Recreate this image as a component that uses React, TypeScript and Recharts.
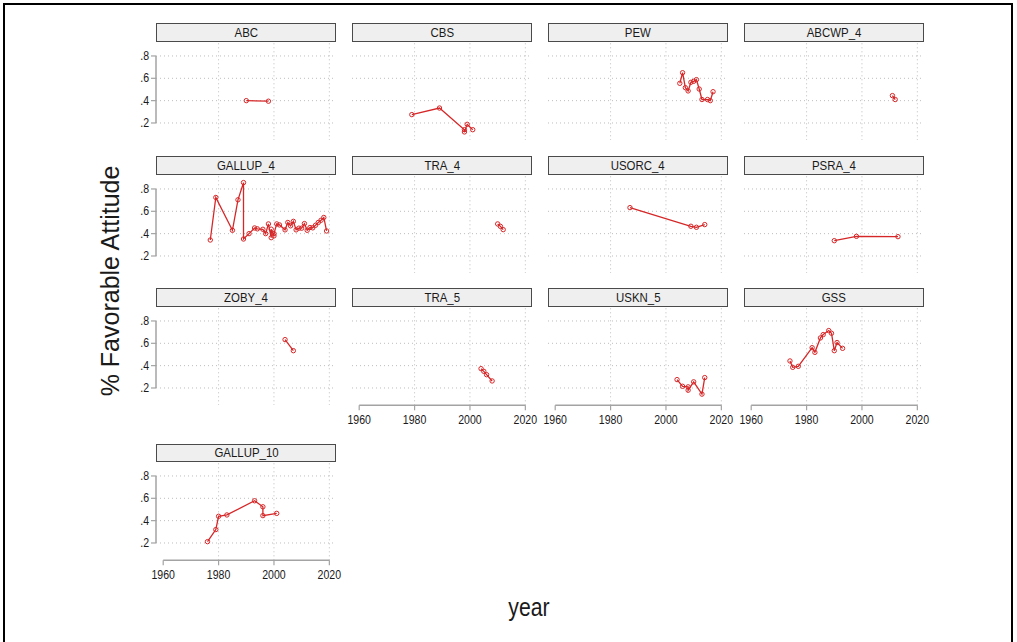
import React from 'react';
import { LineChart, Line, XAxis, YAxis, ReferenceLine } from 'recharts';

type Pt = [number, number];

// share with a favorable attitude, by survey house and year
const ABC: Pt[] = [[1990, 0.40], [1998, 0.395]];
const CBS: Pt[] = [[1979, 0.275], [1989, 0.334], [1998, 0.14], [1998, 0.12], [1999, 0.188], [2001, 0.14]];
const PEW: Pt[] = [
  [2005, 0.555], [2006, 0.65], [2007, 0.516], [2008, 0.487], [2009, 0.564], [2010, 0.573],
  [2011, 0.588], [2012, 0.504], [2013, 0.41], [2015, 0.41], [2016, 0.40], [2017, 0.48],
];
const ABCWP_4: Pt[] = [[2011, 0.445], [2012, 0.41]];
const GALLUP_4: Pt[] = [
  [1977, 0.343], [1979, 0.724], [1985, 0.43], [1987, 0.703], [1989, 0.857], [1989, 0.352],
  [1991, 0.40], [1993, 0.451], [1994, 0.443], [1996, 0.439], [1997, 0.40], [1998, 0.487],
  [1999, 0.364], [1999, 0.44], [2000, 0.38], [2000, 0.40], [2001, 0.487], [2002, 0.478],
  [2004, 0.434], [2005, 0.50], [2006, 0.47], [2007, 0.51], [2008, 0.434], [2009, 0.449],
  [2010, 0.449], [2011, 0.49], [2012, 0.43], [2013, 0.455], [2014, 0.452], [2015, 0.475],
  [2016, 0.50], [2017, 0.52], [2018, 0.545], [2019, 0.424],
];
const TRA_4: Pt[] = [[2010, 0.487], [2011, 0.465], [2012, 0.436]];
const USORC_4: Pt[] = [[1987, 0.633], [2009, 0.466], [2011, 0.457], [2014, 0.481]];
const PSRA_4: Pt[] = [[1990, 0.337], [1998, 0.376], [2013, 0.373]];
const ZOBY_4: Pt[] = [[2004, 0.633], [2007, 0.534]];
const TRA_5: Pt[] = [[2004, 0.373], [2005, 0.349], [2006, 0.319], [2008, 0.263]];
const USKN_5: Pt[] = [[2004, 0.275], [2006, 0.215], [2008, 0.21], [2008, 0.18], [2010, 0.255], [2013, 0.145], [2014, 0.293]];
const GSS: Pt[] = [
  [1974, 0.442], [1975, 0.385], [1977, 0.394], [1982, 0.561], [1983, 0.519], [1985, 0.648],
  [1986, 0.678], [1988, 0.714], [1989, 0.69], [1990, 0.534], [1991, 0.607], [1993, 0.555],
];
const GALLUP_10: Pt[] = [[1976, 0.212], [1979, 0.32], [1980, 0.439], [1983, 0.451], [1993, 0.578], [1996, 0.524], [1996, 0.445], [2001, 0.465]];

const X_TICKS = [1960, 1980, 2000, 2020];
const X_GRID = [1980, 2000, 2020];
const Y_TICKS = [0.2, 0.4, 0.6, 0.8];

const panels: { title: string; pts: Pt[]; row: number; col: number }[] = [
  { title: 'ABC', pts: ABC, row: 0, col: 0 },
  { title: 'CBS', pts: CBS, row: 0, col: 1 },
  { title: 'PEW', pts: PEW, row: 0, col: 2 },
  { title: 'ABCWP_4', pts: ABCWP_4, row: 0, col: 3 },
  { title: 'GALLUP_4', pts: GALLUP_4, row: 1, col: 0 },
  { title: 'TRA_4', pts: TRA_4, row: 1, col: 1 },
  { title: 'USORC_4', pts: USORC_4, row: 1, col: 2 },
  { title: 'PSRA_4', pts: PSRA_4, row: 1, col: 3 },
  { title: 'ZOBY_4', pts: ZOBY_4, row: 2, col: 0 },
  { title: 'TRA_5', pts: TRA_5, row: 2, col: 1 },
  { title: 'USKN_5', pts: USKN_5, row: 2, col: 2 },
  { title: 'GSS', pts: GSS, row: 2, col: 3 },
  { title: 'GALLUP_10', pts: GALLUP_10, row: 3, col: 0 },
];

const RED = '#d62728';
const AXIS = '#a3a3a3';
const GRID = '#bdbdbd';
const FONT = '"Liberation Sans", Arial, sans-serif';

const X_DOMAIN: [number, number] = [1957.4, 2022.4];
const Y_DOMAIN: [number, number] = [0.045, 0.925];

const PLOT_W = 180;
const PLOT_H = 98.3;
const COL_LEFT = [156, 352, 547.8, 743.8];
const ROW_TOP = [41.7, 174.5, 306.8, 462];
const Y_AXIS_W = 30;
const X_AXIS_H = 30;
const SIDE = 14; // room so end tick labels are not cut

const XTick = (props: any) => {
  const { x, y, payload } = props;
  return (
    <text transform={`translate(${x},${y + 11.5}) scale(0.88,1)`} textAnchor="middle" fontSize={12} fill="#1a1a1a" fontFamily={FONT}>
      {payload.value}
    </text>
  );
};

const YTick = (props: any) => {
  const { x, y, payload } = props;
  return (
    <text transform={`translate(${x},${y + 4}) scale(0.88,1)`} textAnchor="end" fontSize={12} fill="#1a1a1a" fontFamily={FONT}>
      {String(payload.value).replace(/^0/, '')}
    </text>
  );
};

function Panel({ title, pts, row, col }: { title: string; pts: Pt[]; row: number; col: number }) {
  const showY = col === 0;
  const showX = (row === 2 && col > 0) || row === 3;
  const left = COL_LEFT[col];
  const top = ROW_TOP[row];
  const yw = showY ? Y_AXIS_W : 0;
  const w = PLOT_W + yw + SIDE * 2;
  const h = PLOT_H + (showX ? X_AXIS_H : 0);
  const data = pts.map(([year, v]) => ({ year, v }));

  return (
    <>
      <div
        style={{
          position: 'absolute',
          left,
          top: top - 18.5,
          width: PLOT_W,
          height: 18.5,
          boxSizing: 'border-box',
          border: '1.5px solid #4a4a4a',
          background: '#efefef',
          display: 'flex',
          alignItems: 'center',
          justifyContent: 'center',
          fontFamily: FONT,
          fontSize: 13,
          color: '#1a1a1a',
        }}
      >
        <span style={{ display: 'inline-block', transform: 'scaleX(0.88)' }}>{title}</span>
      </div>
      <div style={{ position: 'absolute', left: left - yw - SIDE, top }}>
        <LineChart width={w} height={h} data={data} margin={{ top: 0, right: SIDE, bottom: 0, left: SIDE }}>
          <XAxis
            dataKey="year"
            type="number"
            domain={X_DOMAIN}
            allowDataOverflow
            ticks={X_TICKS}
            hide={!showX}
            height={X_AXIS_H}
            axisLine={false}
            tickLine={{ stroke: AXIS, strokeWidth: 1.2 }}
            tickSize={5}
            tickMargin={2}
            tick={<XTick />}
            interval={0}
          />
          <YAxis
            type="number"
            domain={Y_DOMAIN}
            allowDataOverflow
            ticks={Y_TICKS}
            hide={!showY}
            width={Y_AXIS_W}
            axisLine={false}
            tickLine={{ stroke: AXIS, strokeWidth: 1.2 }}
            tickSize={5}
            tickMargin={2}
            tick={<YTick />}
            interval={0}
          />
          {Y_TICKS.map((t) => (
            <ReferenceLine key={`h${t}`} y={t} stroke={GRID} strokeDasharray="1 3" strokeWidth={1} />
          ))}
          {X_GRID.map((t) => (
            <ReferenceLine key={`v${t}`} x={t} stroke={GRID} strokeDasharray="1 3" strokeWidth={1} />
          ))}
          {showY && (
            <ReferenceLine
              segment={[{ x: X_DOMAIN[0], y: 0.2 }, { x: X_DOMAIN[0], y: 0.8 }]}
              stroke={AXIS}
              strokeWidth={1.5}
            />
          )}
          {showX && (
            <ReferenceLine
              segment={[{ x: 1960, y: Y_DOMAIN[0] }, { x: 2020, y: Y_DOMAIN[0] }]}
              stroke={AXIS}
              strokeWidth={1.5}
            />
          )}
          <Line
            type="linear"
            dataKey="v"
            stroke={RED}
            strokeWidth={1.3}
            dot={{ r: 2.2, stroke: RED, strokeWidth: 1, fill: 'none' }}
            isAnimationActive={false}
          />
        </LineChart>
      </div>
    </>
  );
}

export default function App() {
  return (
    <div style={{ position: 'absolute', left: 0, top: 0, width: 1017, height: 642, background: '#fff', overflow: 'hidden', fontFamily: FONT }}>
      <div style={{ position: 'absolute', left: 3, top: 3, width: 1010, height: 700, border: '2px solid #000', boxSizing: 'border-box' }} />
      {panels.map((p) => (
        <Panel key={p.title} {...p} />
      ))}
      <div
        style={{
          position: 'absolute',
          left: 110,
          top: 281,
          transform: 'translate(-50%, -50%) rotate(-90deg)',
          whiteSpace: 'nowrap',
          fontSize: 25,
          color: '#1a1a1a',
        }}
      >
        % Favorable Attitude
      </div>
      <div
        style={{
          position: 'absolute',
          left: 529,
          top: 607,
          transform: 'translate(-50%, -50%) scaleX(0.85)',
          whiteSpace: 'nowrap',
          fontSize: 25,
          color: '#1a1a1a',
        }}
      >
        year
      </div>
    </div>
  );
}
